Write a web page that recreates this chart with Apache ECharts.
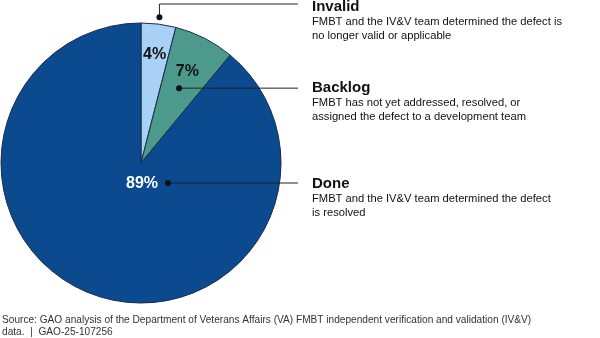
<!DOCTYPE html>
<html><head><meta charset="utf-8">
<script src="https://cdn.jsdelivr.net/npm/echarts@6/dist/echarts.min.js"></script>
<style>html,body{margin:0;padding:0;background:#fff}#c{width:600px;height:338px}</style>
</head><body><div id="c"></div>
<script>
const categories = ['Invalid', 'Backlog', 'Done'];
const values = [4, 7, 89];
const descriptions = [
  ['FMBT and the IV&V team determined the defect is', 'no longer valid or applicable'],
  ['FMBT has not yet addressed, resolved, or', 'assigned the defect to a development team'],
  ['FMBT and the IV&V team determined the defect', 'is resolved']
];
const colors = ['#a9d1f6', '#4b9a8b', '#0b4a8e'];
const sourceLines = [
  'Source: GAO analysis of the Department of Veterans Affairs (VA) FMBT independent verification and validation (IV&V)',
  'data.  |  GAO-25-107256'
];

const CX = 141, CY = 163, R = 140;
const FONT = '"Liberation Sans", Arial, sans-serif';
const total = values.reduce((a, b) => a + b, 0);
const midAngles = [];
let cum = 0;
values.forEach(v => { midAngles.push(2 * Math.PI * (cum + v / 2) / total); cum += v; });
function polar(theta, r) { return [CX + r * Math.sin(theta), CY - r * Math.cos(theta)]; }

// label anchors (relative to slices)
const labelPos = [polar(midAngles[0], R * 0.78), polar(midAngles[1], R * 0.73), [CX + 1, CY + 21]];
const dotPos = [polar(midAngles[0], R * 1.05), polar(midAngles[1], R * 0.6), [CX + 27, CY + 20]];
const titleY = [7, 88, 184];
const lineEndX = 298, textX = 312;

const chart = echarts.init(document.getElementById('c'), null, { renderer: 'canvas' });
const graphics = [];
dotPos.forEach((p, i) => {
  const pts = i === 0 ? [p, [p[0], 4], [lineEndX, 4]] : [p, [lineEndX, p[1]]];
  graphics.push({ type: 'polyline', z: 100, shape: { points: pts }, style: { stroke: '#222', lineWidth: 1, fill: null } });
  graphics.push({ type: 'circle', z: 101, shape: { cx: p[0], cy: p[1], r: 3 }, style: { fill: '#111' } });
  graphics.push({ type: 'text', z: 100, x: textX, y: titleY[i], style: { text: categories[i], font: 'bold 15px ' + FONT, fill: '#111', verticalAlign: 'middle' } });
  descriptions[i].forEach((t, k) => {
    graphics.push({ type: 'text', z: 100, x: textX, y: titleY[i] + 15 + 13.5 * k, style: { text: t, font: '11.2px ' + FONT, fill: '#111', verticalAlign: 'middle' } });
  });
});
sourceLines.forEach((t, k) => {
  graphics.push({ type: 'text', x: 2, y: 320 + 12.5 * k, style: { text: t, font: '10.15px ' + FONT, fill: '#333', verticalAlign: 'middle' } });
});

chart.setOption({
  animation: false,
  backgroundColor: '#fff',
  series: [{
    type: 'pie',
    center: [CX, CY],
    radius: R,
    startAngle: 90,
    clockwise: true,
    data: categories.map((c, i) => ({
      name: c,
      value: values[i],
      itemStyle: { color: colors[i] },
      label: { color: i === 2 ? '#fff' : '#111' }
    })),
    itemStyle: { borderColor: '#1c2b48', borderWidth: 1 },
    label: {
      show: true,
      position: 'inside',
      formatter: p => p.value + '%',
      fontFamily: FONT,
      fontWeight: 'bold',
      fontSize: 16
    },
    labelLayout: params => ({
      x: labelPos[params.dataIndex][0],
      y: labelPos[params.dataIndex][1],
      align: 'center',
      verticalAlign: 'middle'
    }),
    labelLine: { show: false },
    emphasis: { disabled: true }
  }],
  graphic: graphics
});
</script></body></html>
